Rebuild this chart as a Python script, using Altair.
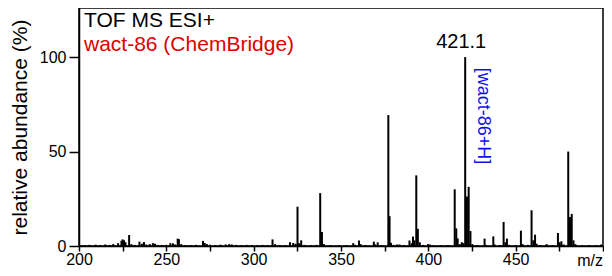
import altair as alt
import pandas as pd

FONT = "Liberation Sans"

# peak list (m/z, relative abundance %)
mz = [201.5, 203.4, 206.0, 209.5, 212.0, 215.0, 217.5, 219.6, 222.4, 224.3,
      225.0, 225.8, 226.6, 228.7, 230.0, 232.0, 234.6, 236.0, 237.2, 238.5,
      240.5, 242.3, 243.5, 245.0, 247.5, 250.0, 252.3, 253.8, 255.0, 256.5,
      257.2, 258.5, 261.0, 264.0, 267.0, 271.0, 272.0, 273.2, 275.0, 278.0,
      281.0, 284.0, 286.0, 287.5, 290.0, 293.0, 296.0, 299.0, 302.0, 305.0,
      308.0, 310.8, 312.3, 315.0, 318.0, 320.8, 322.6, 324.0, 325.1, 326.0,
      327.2, 329.0, 333.0, 336.0, 338.1, 339.1, 340.2, 344.0, 349.0, 353.0,
      357.0, 358.0, 360.3, 361.2, 364.0, 368.8, 369.5, 371.0, 373.0, 377.1,
      377.8, 378.6, 380.0, 382.0, 383.5, 386.0, 389.2, 390.5, 391.2, 392.0,
      393.1, 394.0, 395.1, 397.0, 399.8, 401.0, 403.0, 407.0, 411.0, 415.1,
      416.0, 416.8, 418.0, 419.2, 420.1, 421.1, 422.1, 423.1, 424.1, 425.2,
      428.0, 432.2, 433.0, 437.2, 438.0, 441.0, 443.1, 444.1, 445.0, 446.0,
      450.0, 453.0, 454.0, 457.0, 459.1, 460.1, 461.1, 462.0, 464.0, 467.7,
      471.0, 474.2, 475.2, 476.2, 477.5, 480.1, 481.1, 482.1, 483.1, 484.2,
      488.0, 492.0, 496.0, 499.0]
abundance = [0.4, 0.5, 0.6, 0.7, 0.5, 0.8, 0.6, 1.0, 1.5, 2.8,
             3.5, 3.0, 2.0, 5.8, 1.0, 0.6, 2.3, 1.2, 2.1, 0.8,
             1.0, 1.5, 1.2, 0.6, 0.5, 0.6, 1.5, 1.4, 0.8, 3.9,
             3.6, 1.0, 0.5, 0.5, 0.6, 2.7, 1.6, 1.0, 0.6, 0.5,
             0.7, 0.8, 1.0, 0.8, 0.6, 0.5, 0.6, 0.5, 0.4, 0.6,
             0.5, 3.5, 1.0, 0.5, 0.4, 2.0, 1.6, 1.2, 20.8, 1.5,
             3.0, 0.6, 0.5, 0.6, 28.0, 7.4, 1.0, 0.5, 0.4, 0.5,
             1.5, 0.6, 2.9, 1.0, 0.5, 2.3, 0.8, 1.9, 0.5, 69.3,
             15.8, 1.7, 0.6, 0.8, 0.8, 0.5, 2.9, 1.5, 5.0, 3.0,
             37.4, 9.1, 2.0, 0.6, 1.0, 0.8, 0.4, 0.4, 0.5, 30.0,
             9.3, 4.0, 1.0, 2.0, 1.5, 100.0, 26.2, 31.3, 7.9, 1.0,
             0.5, 3.9, 0.6, 5.1, 0.8, 0.4, 12.7, 2.0, 3.9, 0.6,
             0.5, 8.1, 1.0, 0.6, 18.9, 3.0, 6.0, 1.2, 0.5, 1.0,
             0.5, 6.9, 2.0, 2.5, 0.8, 50.0, 15.3, 17.0, 3.0, 1.0,
             0.4, 0.5, 0.4, 0.8]

x_ticks = [200, 225, 250, 275, 300, 325, 350, 375, 400, 425, 450, 475, 500]
y_ticks = [0, 50, 100]
header_lines = ["TOF MS ESI+", "wact-86 (ChemBridge)"]
peak_label = "421.1"
peak_mz = 421.1
peak_ab = 100.0
ion_label = "[wact-86+H]"
x_unit = "m/z"
y_title = "relative abundance (%)"

df = pd.DataFrame({"mz": mz, "ab": abundance})
df["base"] = 0.0

x_scale = alt.Scale(domain=[200, 500], nice=False, zero=False)
y_scale = alt.Scale(domain=[0, 126], nice=False)

bars = alt.Chart(df).mark_rule(color="black", strokeWidth=2).encode(
    x=alt.X("mz:Q", scale=x_scale,
            axis=alt.Axis(values=x_ticks, title=None, grid=False,
                          labelExpr="datum.value % 50 == 0 && datum.value < 500 ? datum.label : ''",
                          tickSize=5, labelPadding=0, labelFontSize=16,
                          labelOverlap=False, labelFlush=False)),
    y=alt.Y("ab:Q", scale=y_scale,
            axis=alt.Axis(values=y_ticks, title=y_title, grid=False,
                          tickSize=10, labelPadding=3, labelFontSize=16,
                          titleFontSize=21, titleFontWeight="normal",
                          titleAngle=270, titleX=-58.5, titleY=119,
                          titleAlign="center", titleBaseline="middle")),
    y2="base:Q",
)

hdr1 = alt.Chart(pd.DataFrame({"t": [header_lines[0]]})).mark_text(
    align="left", baseline="alphabetic", fontSize=21, font=FONT, color="black"
).encode(x=alt.value(5), y=alt.value(18.5), text="t:N")

hdr2 = alt.Chart(pd.DataFrame({"t": [header_lines[1]]})).mark_text(
    align="left", baseline="alphabetic", fontSize=21, font=FONT, color="#dd0000"
).encode(x=alt.value(5), y=alt.value(43), text="t:N")

peak_txt = alt.Chart(pd.DataFrame({"t": [peak_label], "mz": [peak_mz], "ab": [peak_ab]})).mark_text(
    align="center", baseline="alphabetic", fontSize=20, font=FONT, color="black", dx=-4, dy=-9
).encode(x="mz:Q", y="ab:Q", text="t:N")

ion_txt = alt.Chart(pd.DataFrame({"t": [ion_label]})).mark_text(
    align="left", baseline="middle", angle=90, fontSize=18, font=FONT, color="#1010ee"
).encode(x=alt.datum(431.5), y=alt.datum(94.4), text="t:N")

unit_txt = alt.Chart(pd.DataFrame({"t": [x_unit]})).mark_text(
    align="right", baseline="alphabetic", fontSize=16, font=FONT, color="black"
).encode(x=alt.datum(500), y=alt.value(257.5), text="t:N")

chart = alt.layer(bars, hdr1, hdr2, peak_txt, ion_txt, unit_txt).properties(
    width=524, height=238,
    autosize=alt.AutoSizeParams(type="none"),
    padding={"left": 71, "top": 0, "right": 1, "bottom": 22},
).configure_view(
    stroke="black", strokeWidth=1.5
).configure_axis(
    domainColor="black", domainWidth=1.5, tickColor="black", tickWidth=1.5,
    labelColor="black", titleColor="black", labelFont=FONT, titleFont=FONT
).configure_text(font=FONT)

chart.save("out.html", embed_options={"renderer": "svg", "actions": False})
